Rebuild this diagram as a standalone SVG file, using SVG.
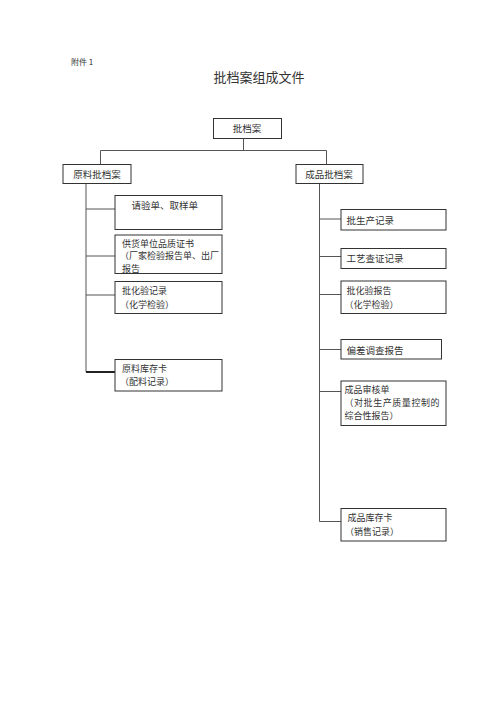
<svg xmlns="http://www.w3.org/2000/svg" width="496" height="702" viewBox="0 0 496 702">
<style>
text{font-family:"Noto Sans CJK SC","Noto Sans CJK JP",sans-serif;fill:#333;font-size:9.5px}
.s{font-size:9px}
.box{fill:#fff;stroke:#333;stroke-width:1}
.ln{stroke:#555;stroke-width:1;fill:none}
.c{text-anchor:middle}
</style>
<rect width="496" height="702" fill="#fff"/>
<text x="71" y="65" style="font-size:8px">附件 1</text>
<text x="259" y="82" class="c" style="font-size:13px">批档案组成文件</text>
<g id="connectors">
<path class="ln" d="M243.5 138.5V150.5M100.5 150.5H326.5M100.5 150.5V164M326.5 150.5V164"/>
<path class="ln" d="M86 183V372M86 209H115M86 256H115M86 295H115"/>
<path class="ln" d="M86 372H115" style="stroke-width:2;stroke:#222"/>
<path class="ln" d="M319.5 183V521.5H341M319.5 219H341M319.5 256.5H341M319.5 294.5H341M319.5 349.5H341M319.5 391.5H341"/>
</g>
<g id="root"><rect class="box" x="213.5" y="118.5" width="68" height="20"/><text x="247" y="131.5" class="c">批档案</text></g>
<g id="raw"><rect class="box" x="63" y="164.5" width="68" height="19"/><text x="97" y="177.5" class="c">原料批档案</text></g>
<g id="prod"><rect class="box" x="296" y="164.5" width="67" height="19"/><text x="329" y="177.5" class="c">成品批档案</text></g>
<g id="r1"><rect class="box" x="115" y="195.5" width="107" height="34"/><text x="131.5" y="208.5">请验单、取样单</text></g>
<g id="r2"><rect class="box" x="115" y="235" width="107" height="38.5"/><text class="s" x="122" y="246.5">供货单位品质证书</text><text class="s" x="120" y="259" textLength="99" lengthAdjust="spacingAndGlyphs">（厂家检验报告单、出厂</text><text class="s" x="122" y="271.5">报告</text></g>
<g id="r3"><rect class="box" x="115" y="281.5" width="107" height="32"/><text class="s" x="122" y="293.5">批化验记录</text><text class="s" x="120" y="307.5">（化学检验）</text></g>
<g id="r4"><rect class="box" x="115" y="359.5" width="107" height="31.5"/><text class="s" x="122" y="371.5">原料库存卡</text><text class="s" x="120" y="385">（配料记录）</text></g>
<g id="p1"><rect class="box" x="341" y="209.5" width="105" height="20.5"/><text x="346.5" y="223.5">批生产记录</text></g>
<g id="p2"><rect class="box" x="341" y="248.5" width="105" height="20"/><text x="346.5" y="261.5">工艺查证记录</text></g>
<g id="p3"><rect class="box" x="341" y="281" width="105" height="32.5"/><text class="s" x="346.5" y="293.5">批化验报告</text><text class="s" x="344.5" y="307.5">（化学检验）</text></g>
<g id="p4"><rect class="box" x="341" y="339.5" width="100.5" height="19.5"/><text x="346.5" y="353.5">偏差调查报告</text></g>
<g id="p5"><rect class="box" x="341" y="381" width="105" height="44.5"/><text class="s" x="344.5" y="393">成品审核单</text><text class="s" x="344.5" y="405.5" textLength="95" lengthAdjust="spacing">（对批生产质量控制的</text><text class="s" x="344.5" y="418.5">综合性报告）</text></g>
<g id="p6"><rect class="box" x="341" y="508.5" width="105" height="32.5"/><text class="s" x="347.5" y="521">成品库存卡</text><text class="s" x="345" y="534.5">（销售记录）</text></g>
</svg>
